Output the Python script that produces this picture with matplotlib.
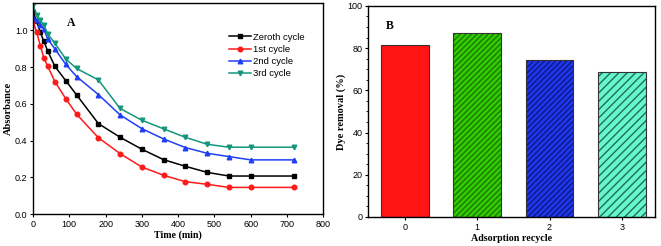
import matplotlib
matplotlib.use("Agg")
import matplotlib.pyplot as plt

# dữ liệu panel A
time_min = [0, 10, 20, 30, 40, 60, 90, 120, 180, 240, 300, 360, 420, 480, 540, 600, 720]
zeroth = [1.10, 1.05, 0.99, 0.94, 0.89, 0.805, 0.727, 0.649, 0.493, 0.418, 0.353, 0.296, 0.26, 0.227, 0.207, 0.207, 0.207]
first = [1.05, 0.99, 0.918, 0.849, 0.807, 0.722, 0.629, 0.544, 0.416, 0.329, 0.256, 0.211, 0.176, 0.162, 0.145, 0.145, 0.145]
second = [1.07, 1.055, 1.03, 1.007, 0.955, 0.90, 0.816, 0.749, 0.651, 0.54, 0.465, 0.409, 0.362, 0.331, 0.313, 0.295, 0.295]
third = [1.14, 1.082, 1.055, 1.03, 0.982, 0.931, 0.845, 0.793, 0.731, 0.575, 0.511, 0.464, 0.418, 0.38, 0.364, 0.364, 0.364]

# dữ liệu panel B
recycle = ["0", "1", "2", "3"]
removal = [81.6, 87.1, 74.4, 68.8]

serif = "Liberation Serif"
sans = "Liberation Sans"

fig = plt.figure(figsize=(6.61, 2.46), dpi=100)

# ---- Panel A ----
ax1 = fig.add_axes([0.050, 0.130, 0.439, 0.858])
series = [
    ("Zeroth cycle", zeroth, "black", "s"),
    ("1st cycle", first, "#ff1a1a", "o"),
    ("2nd cycle", second, "#1f3ff5", "^"),
    ("3rd cycle", third, "#14967a", "v"),
]
for label, vals, col, mk in series:
    ax1.plot(time_min, vals, color=col, marker=mk, markersize=3.3, linewidth=1.1, label=label)
ax1.set_xlim(0, 800)
ax1.set_ylim(0, 1.15)
ax1.set_xticks(range(0, 801, 100))
ax1.set_yticks([0.0, 0.2, 0.4, 0.6, 0.8, 1.0])
ax1.set_yticklabels(["0.0", "0.2", "0.4", "0.6", "0.8", "1.0"])
ax1.set_xlabel("Time (min)", family=serif, fontweight="bold", fontsize=7.2, labelpad=1.5)
ax1.set_ylabel("Absorbance", family=serif, fontweight="bold", fontsize=7.5, labelpad=1.5)
ax1.text(0.115, 0.89, "A", transform=ax1.transAxes, family=serif, fontweight="bold", fontsize=8.5)
leg = ax1.legend(loc="upper left", bbox_to_anchor=(0.675, 0.86), frameon=False,
                 prop={"family": sans, "size": 6.8}, handlelength=2.3,
                 labelspacing=0.35, handletextpad=0.2, borderpad=0, borderaxespad=0)

# ---- Panel B ----
ax2 = fig.add_axes([0.557, 0.118, 0.434, 0.858])
faces = ["#ff1414", "#33cc00", "#2036f0", "#66f5cc"]
hatch_cols = ["#ff1414", "#1a7a00", "#0d1a80", "#1f6e58"]
hatches = [None, "//////", "//////", "////"]
x = list(range(len(recycle)))
bars = ax2.bar(x, removal, width=0.66, color=faces, edgecolor="#333333", linewidth=0.8)
for b, h, hc in zip(bars, hatches, hatch_cols):
    if h:
        b.set_hatch(h)
        b._hatch_color = matplotlib.colors.to_rgba(hc)
ax2.set_xlim(-0.51, 3.46)
ax2.set_ylim(0, 100)
ax2.set_xticks(x)
ax2.set_xticklabels(recycle)
ax2.set_yticks(range(0, 101, 20))
ax2.set_xlabel("Adsorption recycle", family=serif, fontweight="bold", fontsize=7.2, labelpad=1.5)
ax2.set_ylabel("Dye removal (%)", family=serif, fontweight="bold", fontsize=7.5, labelpad=1.5)
ax2.text(0.06, 0.89, "B", transform=ax2.transAxes, family=serif, fontweight="bold", fontsize=8.5)

for ax in (ax1, ax2):
    ax.tick_params(direction="out", length=2.5, width=0.8, labelsize=6.5, pad=1.5)
    for lbl in ax.get_xticklabels() + ax.get_yticklabels():
        lbl.set_family(sans)
    for s in ax.spines.values():
        s.set_linewidth(1.0)
ax2.minorticks_on()
ax2.tick_params(which="minor", direction="out", length=1.5, width=0.6)
ax2.tick_params(axis="x", which="minor", bottom=False)

plt.savefig("out.png", dpi=100)
